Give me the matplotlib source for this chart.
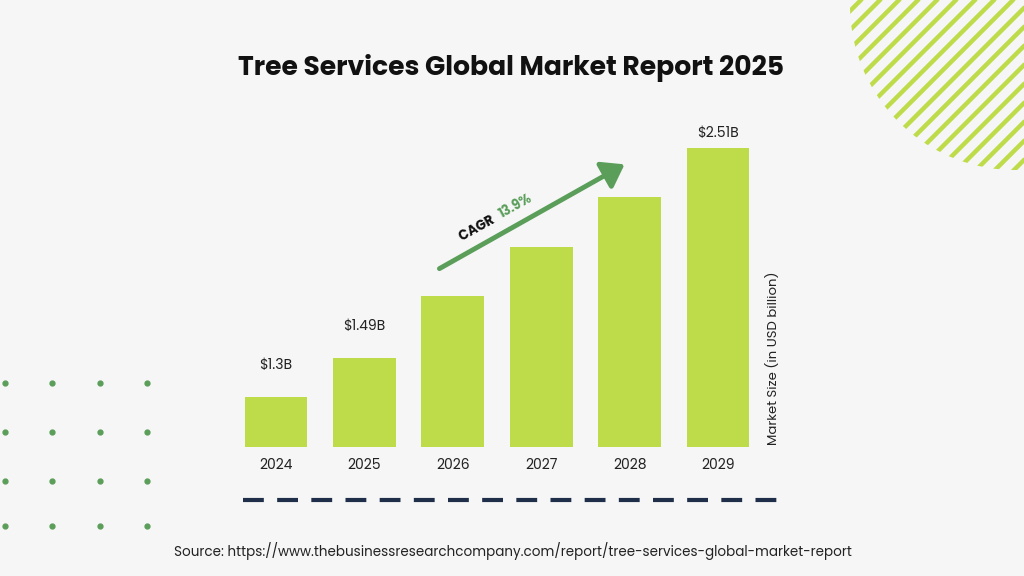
import matplotlib
matplotlib.use("Agg")
import matplotlib.pyplot as plt
from matplotlib.patches import Circle, FancyArrowPatch
import numpy as np

years = ["2024", "2025", "2026", "2027", "2028", "2029"]
values = [1.30, 1.49, 1.79, 2.03, 2.27, 2.51]
labels = ["$1.3B", "$1.49B", "", "", "", "$2.51B"]
title = "Tree Services Global Market Report 2025"
cagr = "13.9%"
source = "Source: https://www.thebusinessresearchcompany.com/report/tree-services-global-market-report"

BG = "#f6f6f6"
GREEN = "#bedc4a"
plt.rcParams['font.family'] = ['Poppins', 'Lato', 'DejaVu Sans']

fig = plt.figure(figsize=(10.24, 5.76), dpi=100, facecolor=BG)

ov = fig.add_axes([0, 0, 1, 1], facecolor="none")
ov.set_xlim(0, 1024); ov.set_ylim(576, 0); ov.axis("off")

circ = Circle((1015, 5), 165, transform=ov.transData, facecolor="none", edgecolor="none")
ov.add_patch(circ)
for k in np.arange(-400, 400, 19):
    x0 = 900 + k
    ln, = ov.plot([x0 - 300, x0 + 300], [300, -300], color=GREEN, lw=3.2, solid_capstyle="butt")
    ln.set_clip_path(circ)

for x in [5, 52, 100, 147]:
    for y in [383, 432, 481, 526]:
        ov.plot(x, y, "o", color="#5a9e5a", ms=3.5)

ov.plot([243, 780], [500, 500], color="#1f2f4a", lw=3, dashes=(5, 3.2))

ov.text(511, 68, title, ha="center", va="center", fontsize=19.2, fontweight="bold", color="#111111")
ov.text(513, 551, source, ha="center", va="center", fontsize=9.7, color="#222222")
ov.text(773, 358, "Market Size (in USD billion)", rotation=90, ha="center", va="center", fontsize=9.5, color="#222222")

arr = FancyArrowPatch((437, 270), (627, 163), arrowstyle="-|>,head_length=10,head_width=7",
                      color="#5a9e5a", lw=3.5, mutation_scale=1.3)
ov.add_patch(arr)
ov.text(478, 228, "CAGR ", rotation=29, ha="center", va="center", fontsize=9.5, fontweight="bold", color="#111111")
ov.text(516, 207, cagr, rotation=29, ha="center", va="center", fontsize=9.5, fontweight="bold", color="#5a9e5a")

ax = fig.add_axes([0.2264, 0.224, 0.518, 0.5677], facecolor="none")
x = np.arange(len(years))
ax.bar(x, values, width=0.71, color=GREEN)
ax.set_xlim(-0.5, 5.5)
ax.set_ylim(1.057, 2.646)
for i, (xi, v, l) in enumerate(zip(x, values, labels)):
    if l:
        off = 5 if i == len(values) - 1 else 17
        ax.annotate(l, (xi, v), xytext=(0, off), textcoords="offset points",
                    ha="center", va="bottom", fontsize=10, color="#222222")
ax.set_xticks(x, years)
ax.tick_params(axis="x", length=0, labelsize=10, colors="#222222", pad=8)
ax.set_yticks([])
for s in ax.spines.values():
    s.set_visible(False)

fig.savefig("out.png", dpi=100, facecolor=BG)
